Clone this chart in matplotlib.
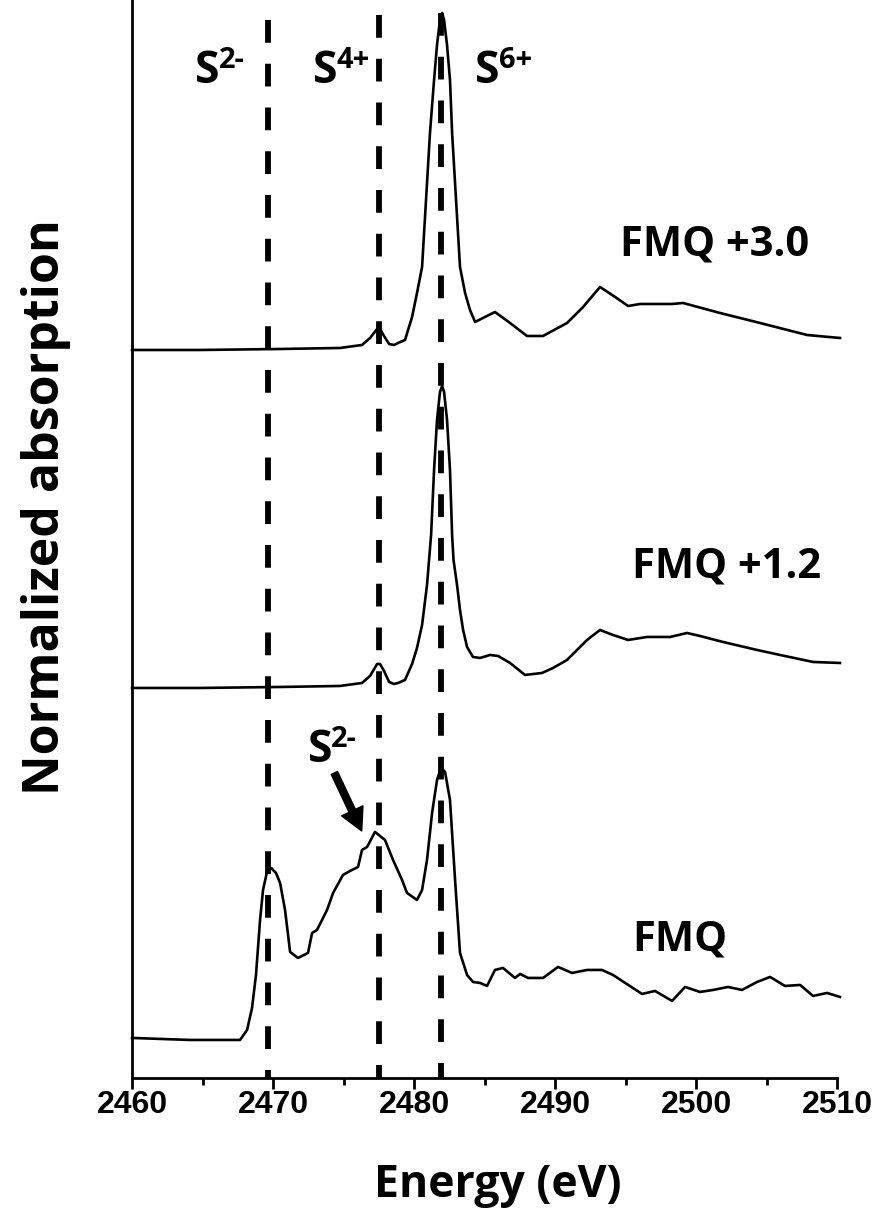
import matplotlib
matplotlib.use('Agg')
import matplotlib.pyplot as plt
from matplotlib.ticker import MultipleLocator

plt.rcParams['font.family'] = ['Open Sans', 'DejaVu Sans']

# S K-edge XANES, three redox conditions (offsets already included)
energy_fmq30 = [2460.0, 2464.82, 2470.50, 2474.75, 2476.31, 2476.88, 2477.38, 2477.59, 2477.87,
                2478.23, 2478.58, 2478.87, 2479.36, 2479.86, 2480.21, 2480.57, 2480.85, 2481.13,
                2481.42, 2481.63, 2481.84, 2481.99, 2482.13, 2482.34, 2482.55, 2482.70, 2482.98,
                2483.26, 2483.62, 2483.97, 2484.33, 2484.89, 2485.74, 2486.81, 2488.01, 2489.15,
                2490.85, 2491.99, 2493.19, 2494.26, 2495.18, 2496.03, 2498.30, 2499.08, 2501.70,
                2504.54, 2507.87, 2510.21]
absorb_fmq30 = [7.28, 7.28, 7.29, 7.30, 7.33, 7.40, 7.49, 7.49, 7.42,
                7.34, 7.33, 7.35, 7.38, 7.61, 7.85, 8.11, 8.78, 9.45,
                9.98, 10.33, 10.58, 10.65, 10.58, 10.33, 9.98, 9.45, 8.78,
                8.11, 7.85, 7.68, 7.56, 7.60, 7.66, 7.55, 7.42, 7.42,
                7.55, 7.71, 7.91, 7.81, 7.72, 7.74, 7.74, 7.75, 7.65,
                7.55, 7.43, 7.40]

energy_fmq12 = [2460.0, 2464.82, 2470.50, 2474.75, 2476.31, 2476.88, 2477.38, 2477.59, 2477.87,
                2478.23, 2478.58, 2478.87, 2479.36, 2479.86, 2480.21, 2480.57, 2480.92, 2481.21,
                2481.42, 2481.63, 2481.84, 2481.99, 2482.13, 2482.34, 2482.55, 2482.70, 2482.80,
                2483.05, 2483.26, 2483.48, 2483.76, 2484.18, 2484.68, 2485.39, 2485.96, 2486.81,
                2487.87, 2489.08, 2489.86, 2490.85, 2492.27, 2493.19, 2494.11, 2495.18, 2496.52,
                2498.16, 2499.36, 2500.28, 2501.91, 2504.33, 2505.96, 2508.30, 2510.21]
absorb_fmq12 = [3.90, 3.90, 3.91, 3.92, 3.95, 4.02, 4.14, 4.14, 4.07,
                3.96, 3.94, 3.95, 3.98, 4.14, 4.30, 4.53, 4.93, 5.43,
                6.08, 6.58, 6.86, 6.92, 6.86, 6.58, 6.08, 5.43, 5.18,
                4.93, 4.68, 4.48, 4.31, 4.21, 4.20, 4.23, 4.22, 4.15,
                4.03, 4.05, 4.10, 4.18, 4.38, 4.48, 4.43, 4.38, 4.41,
                4.41, 4.45, 4.42, 4.36, 4.28, 4.23, 4.16, 4.15]

energy_fmq = [2460.0, 2464.11, 2467.66, 2468.16, 2468.51, 2468.79, 2469.08, 2469.29, 2469.57,
              2469.86, 2470.21, 2470.50, 2470.85, 2471.21, 2471.77, 2472.48, 2472.77, 2473.12,
              2473.83, 2474.26, 2474.96, 2475.46, 2476.03, 2476.31, 2476.67, 2477.23, 2477.94,
              2478.51, 2479.15, 2479.50, 2480.21, 2480.57, 2480.92, 2481.28, 2481.63, 2481.91,
              2482.20, 2482.55, 2482.91, 2483.26, 2483.76, 2484.18, 2484.68, 2485.18, 2485.74,
              2486.31, 2487.16, 2487.52, 2488.09, 2489.15, 2490.21, 2491.21, 2492.27, 2493.33,
              2494.11, 2496.17, 2497.09, 2498.30, 2499.22, 2500.28, 2501.21, 2502.27, 2503.26,
              2504.33, 2505.25, 2506.31, 2507.38, 2508.30, 2509.29, 2510.21]
absorb_fmq = [0.40, 0.38, 0.38, 0.48, 0.70, 1.03, 1.58, 1.88, 2.06,
              2.10, 2.05, 1.95, 1.68, 1.26, 1.20, 1.25, 1.45, 1.48,
              1.68, 1.85, 2.03, 2.07, 2.11, 2.28, 2.31, 2.46, 2.38,
              2.18, 1.98, 1.85, 1.78, 1.88, 2.18, 2.65, 2.98, 3.10,
              3.06, 2.78, 1.98, 1.25, 1.03, 0.96, 0.95, 0.92, 1.08,
              1.10, 1.00, 1.04, 1.00, 1.00, 1.11, 1.05, 1.08, 1.08,
              1.03, 0.84, 0.87, 0.77, 0.91, 0.86, 0.88, 0.91, 0.88,
              0.96, 1.01, 0.92, 0.93, 0.82, 0.85, 0.81]

# reference energies for S species
ref_energy = [2469.65, 2477.55, 2481.9]
ref_top = [10.58, 10.63, 10.65]
ref_labels = [('S', '2-', 2464.47), ('S', '4+', 2472.84), ('S', '6+', 2484.33)]

curve_labels = ['FMQ +3.0', 'FMQ +1.2', 'FMQ']
curve_label_pos = [(2494.61, 8.22), (2495.46, 5.00), (2495.46, 1.27)]

fig = plt.figure(figsize=(8.85, 12.09), dpi=100)
ax = fig.add_axes([0.1492, 0.1084, 0.7966, 0.8916])

for e, a in [(energy_fmq30, absorb_fmq30), (energy_fmq12, absorb_fmq12), (energy_fmq, absorb_fmq)]:
    ax.plot(e, a, color='black', lw=1.9, clip_on=False, solid_joinstyle='round')

for x, top in zip(ref_energy, ref_top):
    ax.plot([x, x], [top, 0], color='black', lw=4.2, linestyle=(0, (3.9, 3.6)), clip_on=False)

bold = dict(fontweight='bold', color='black')
for base, sup, x in ref_labels:
    ax.text(x, 9.95, base, fontsize=32, va='baseline', ha='left', **bold)
    ax.annotate(sup, xy=(x, 9.95), xytext=(17, 11), textcoords='offset points',
                fontsize=21, va='baseline', ha='left', **bold)

# S2- shoulder in the FMQ spectrum
ax.text(2472.45, 3.16, 'S', fontsize=32, va='baseline', ha='left', **bold)
ax.annotate('2-', xy=(2472.45, 3.16), xytext=(17, 11), textcoords='offset points',
            fontsize=21, va='baseline', ha='left', **bold)
ax.annotate('', xy=(2476.29, 2.47), xytext=(2474.35, 3.05),
            arrowprops=dict(facecolor='black', edgecolor='black', width=5,
                            headwidth=17, headlength=16, shrink=0))

for lab, (x, y) in zip(curve_labels, curve_label_pos):
    ax.text(x, y, lab, fontsize=30, va='baseline', ha='left', **bold)

ax.set_xlim(2460, 2510)
ax.set_ylim(0, 10.78)
ax.xaxis.set_major_locator(MultipleLocator(10))
ax.xaxis.set_minor_locator(MultipleLocator(5))
ax.tick_params(axis='x', which='major', direction='out', length=8, width=2, pad=1)
ax.tick_params(axis='x', which='minor', direction='out', length=5, width=2)
ax.set_yticks([])
for lbl in ax.get_xticklabels():
    lbl.set_fontfamily(['Liberation Sans', 'DejaVu Sans'])
    lbl.set_fontweight('bold')
    lbl.set_fontsize(23)
for side in ['top', 'right']:
    ax.spines[side].set_visible(False)
for side in ['left', 'bottom']:
    ax.spines[side].set_linewidth(2)

fig.text(498 / 885, 1 - 1197 / 1209, 'Energy (eV)', fontsize=32, ha='center',
         va='baseline', **bold)
fig.text(46 / 885, 1 - 507 / 1209, 'Normalized absorption', fontsize=36, rotation=90,
         ha='center', va='center', **bold)

fig.savefig('out.png', dpi=100)
